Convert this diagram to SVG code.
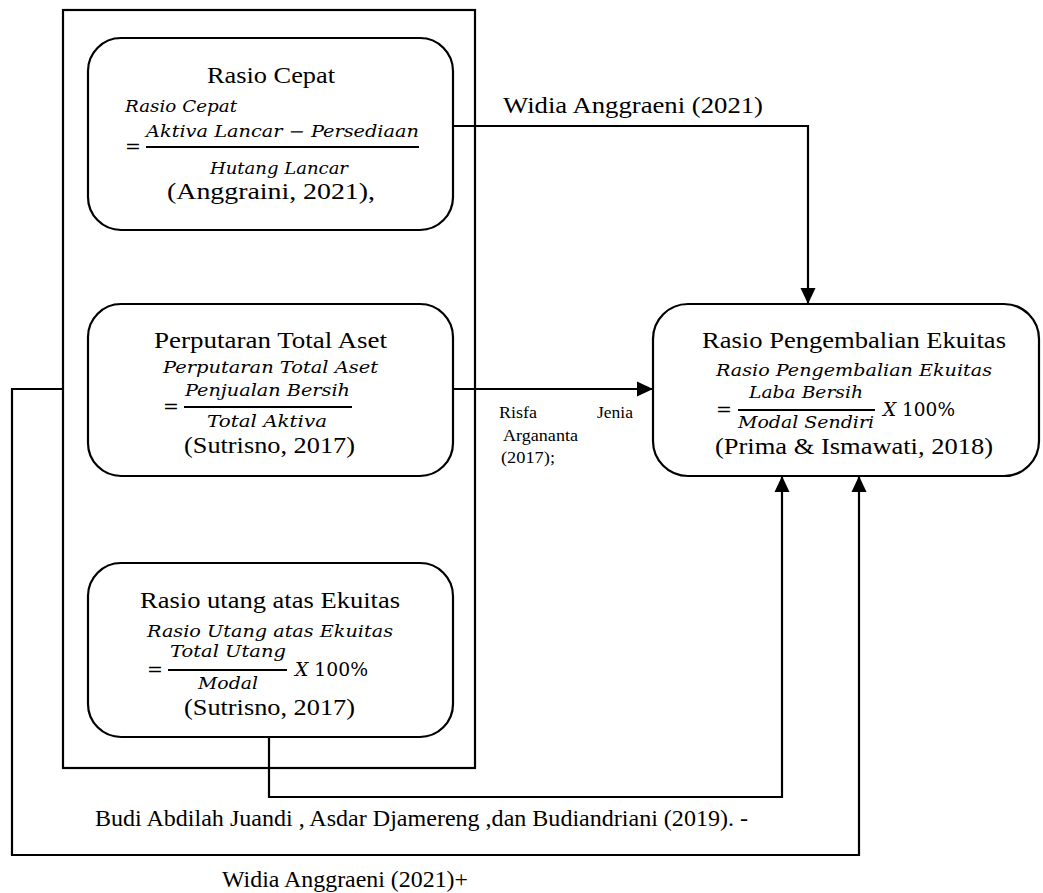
<svg xmlns="http://www.w3.org/2000/svg" width="1043" height="893" viewBox="0 0 1043 893">
<defs>
<style>
.box{fill:#fff;stroke:#000;stroke-width:2.2}
.outer{fill:none;stroke:#000;stroke-width:2.2}
.c{fill:none;stroke:#000;stroke-width:2.2}
.fl{stroke:#000;stroke-width:2}
.t{font-size:24px;fill:#000}
.m{font-style:italic;font-size:16px;fill:#000}
.mu{font-size:19px;fill:#000}
.s{font-size:17px;fill:#000}
</style>
<marker id="ah" markerWidth="16" markerHeight="16" viewBox="0 0 16 16" refX="16" refY="8" orient="auto" markerUnits="userSpaceOnUse">
<path d="M0,0.5 L16,8 L0,15.5 z" fill="#000"/>
</marker>
</defs>
<rect width="1043" height="893" fill="#fff"/>

<g id="group-frame">
<rect class="outer" x="63" y="10" width="412" height="758"/>
</g>

<g id="connectors">
<path class="c" d="M453,126 H808 V304" marker-end="url(#ah)"/>
<path class="c" d="M453,389 H653" marker-end="url(#ah)"/>
<path class="c" d="M269,737 V797 H782 V476" marker-end="url(#ah)"/>
<path class="c" d="M63,389 H12 V855 H859 V476" marker-end="url(#ah)"/>
</g>

<g id="node-rasio-cepat">
<rect class="box" x="88" y="38" width="365" height="192" rx="33"/>
<text class="t" font-family="'Liberation Serif', 'Times New Roman', serif" x="207" y="83" textLength="128" lengthAdjust="spacingAndGlyphs">Rasio Cepat</text>
<g font-family="'DejaVu Serif', serif">
<text class="m" x="125" y="112" textLength="112" lengthAdjust="spacingAndGlyphs">Rasio Cepat</text>
<text class="mu" x="125" y="153">=</text>
<text class="m" x="146" y="137" textLength="273" lengthAdjust="spacingAndGlyphs">Aktiva Lancar − Persediaan</text>
<text class="m" x="210" y="174" textLength="138" lengthAdjust="spacingAndGlyphs">Hutang Lancar</text>
</g>
<line class="fl" x1="146" y1="147" x2="419" y2="147"/>
<text class="t" font-family="'Liberation Serif', 'Times New Roman', serif" x="167" y="199" textLength="208" lengthAdjust="spacingAndGlyphs">(Anggraini, 2021),</text>
</g>

<g id="node-perputaran">
<rect class="box" x="88" y="304" width="365" height="172" rx="33"/>
<text class="t" font-family="'Liberation Serif', 'Times New Roman', serif" x="154" y="348" textLength="233" lengthAdjust="spacingAndGlyphs">Perputaran Total Aset</text>
<g font-family="'DejaVu Serif', serif">
<text class="m" x="163" y="373" textLength="215" lengthAdjust="spacingAndGlyphs">Perputaran Total Aset</text>
<text class="mu" x="163" y="413">=</text>
<text class="m" x="185" y="396" textLength="165" lengthAdjust="spacingAndGlyphs">Penjualan Bersih</text>
<text class="m" x="207" y="427" textLength="120" lengthAdjust="spacingAndGlyphs">Total Aktiva</text>
</g>
<line class="fl" x1="184" y1="407" x2="352" y2="407"/>
<text class="t" font-family="'Liberation Serif', 'Times New Roman', serif" x="184" y="453" textLength="171" lengthAdjust="spacingAndGlyphs">(Sutrisno, 2017)</text>
</g>

<g id="node-rasio-utang">
<rect class="box" x="88" y="563" width="365" height="174" rx="33"/>
<text class="t" font-family="'Liberation Serif', 'Times New Roman', serif" x="140" y="608" textLength="260" lengthAdjust="spacingAndGlyphs">Rasio utang atas Ekuitas</text>
<g font-family="'DejaVu Serif', serif">
<text class="m" x="147" y="637" textLength="246" lengthAdjust="spacingAndGlyphs">Rasio Utang atas Ekuitas</text>
<text class="mu" x="147" y="676">=</text>
<text class="m" x="170" y="657" textLength="116" lengthAdjust="spacingAndGlyphs">Total Utang</text>
<text class="m" x="198" y="689" textLength="60" lengthAdjust="spacingAndGlyphs">Modal</text>
<text class="mu" font-size="17" x="295" y="676" textLength="73" lengthAdjust="spacingAndGlyphs"><tspan font-style="italic">X</tspan> 100%</text>
</g>
<line class="fl" x1="168" y1="670" x2="287" y2="670"/>
<text class="t" font-family="'Liberation Serif', 'Times New Roman', serif" x="184" y="715" textLength="171" lengthAdjust="spacingAndGlyphs">(Sutrisno, 2017)</text>
</g>

<g id="node-roe">
<rect class="box" x="653" y="304" width="386" height="172" rx="35"/>
<text class="t" font-family="'Liberation Serif', 'Times New Roman', serif" x="702" y="348" textLength="304" lengthAdjust="spacingAndGlyphs">Rasio Pengembalian Ekuitas</text>
<g font-family="'DejaVu Serif', serif">
<text class="m" x="716" y="376" textLength="276" lengthAdjust="spacingAndGlyphs">Rasio Pengembalian Ekuitas</text>
<text class="mu" x="716" y="416">=</text>
<text class="m" x="749" y="398" textLength="114" lengthAdjust="spacingAndGlyphs">Laba Bersih</text>
<text class="m" x="738" y="428" textLength="136" lengthAdjust="spacingAndGlyphs">Modal Sendiri</text>
<text class="mu" font-size="17" x="883" y="416" textLength="72" lengthAdjust="spacingAndGlyphs"><tspan font-style="italic">X</tspan> 100%</text>
</g>
<line class="fl" x1="738" y1="410" x2="875" y2="410"/>
<text class="t" font-family="'Liberation Serif', 'Times New Roman', serif" x="715" y="454" textLength="278" lengthAdjust="spacingAndGlyphs">(Prima &amp; Ismawati, 2018)</text>
</g>

<g id="labels" font-family="'Liberation Serif', 'Times New Roman', serif">
<text class="t" x="503" y="113" textLength="260" lengthAdjust="spacingAndGlyphs">Widia Anggraeni (2021)</text>
<text class="s" x="499" y="418" textLength="38" lengthAdjust="spacingAndGlyphs">Risfa</text>
<text class="s" x="597" y="418" textLength="36" lengthAdjust="spacingAndGlyphs">Jenia</text>
<text class="s" x="503" y="441" textLength="75" lengthAdjust="spacingAndGlyphs">Argananta</text>
<text class="s" x="501" y="463" textLength="54" lengthAdjust="spacingAndGlyphs">(2017);</text>
<text class="t" x="95" y="826" textLength="653" lengthAdjust="spacingAndGlyphs">Budi Abdilah Juandi , Asdar Djamereng ,dan Budiandriani (2019). -</text>
<text class="t" x="222" y="887" textLength="246" lengthAdjust="spacingAndGlyphs">Widia Anggraeni (2021)+</text>
</g>
</svg>
